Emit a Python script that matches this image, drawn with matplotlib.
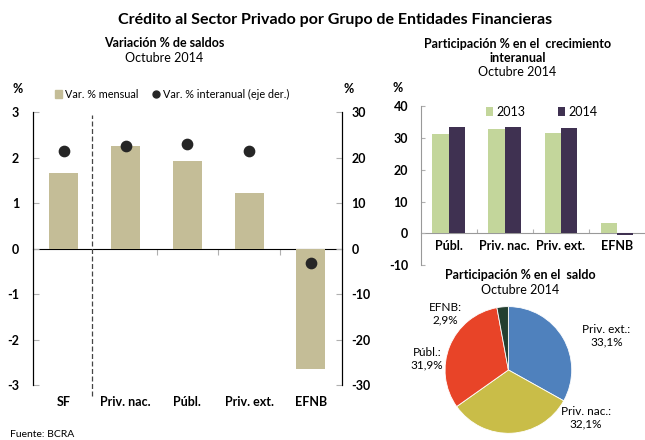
import matplotlib.pyplot as plt
from matplotlib.patches import Rectangle
from matplotlib.lines import Line2D

plt.rcParams['font.family'] = ['Lato', 'DejaVu Sans']

# left chart: variacion % de saldos
grupos = ["SF", "Priv. nac.", "Públ.", "Priv. ext.", "EFNB"]
var_mensual = [1.67, 2.26, 1.93, 1.22, -2.64]
var_interanual = [21.4, 22.6, 22.9, 21.5, -3.2]

# right top: participacion % en el crecimiento interanual
entidades = ["Públ.", "Priv. nac.", "Priv. ext.", "EFNB"]
part_2013 = [31.4, 32.9, 31.7, 3.35]
part_2014 = [33.5, 33.5, 33.1, -0.6]

# pie: participacion % en el saldo
pie_labels = ["Priv. ext.:\n33,1%", "Priv. nac.:\n32,1%", "Públ.:\n31,9%", "EFNB:\n2,9%"]
pie_vals = [33.1, 32.1, 31.9, 2.9]
pie_colors = ["#4F81BD", "#C9BD48", "#E84428", "#233F30"]

TAN = "#C4BD97"
GREEN = "#C3D69B"
PURPLE = "#3F3151"
TICKG = "#B0B0B0"

fig = plt.figure(figsize=(6.45, 4.4), dpi=100)

fig.text(0.52, 0.955, "Crédito al Sector Privado por Grupo de Entidades Financieras",
         ha="center", va="center", fontsize=11.5, fontweight="bold")

# ---------------- left chart ----------------
ax = fig.add_axes([0.0512, 0.125, 0.4788, 0.62])
x = range(len(grupos))
ax.bar(x, var_mensual, width=0.47, color=TAN, zorder=2)
ax.set_xlim(-0.5, 4.5)
ax.set_ylim(-3, 3)
ax.set_yticks([-3, -2, -1, 0, 1, 2, 3])
ax.set_yticklabels(["-3", "-2", "-1", "0", "1", "2", "3"], fontweight="bold", fontsize=9)
ax.tick_params(axis="y", direction="in", length=4, color=TICKG, pad=10)
ax.set_xticks(list(x))
ax.set_xticklabels(grupos, fontweight="bold", fontsize=9)
ax.tick_params(axis="x", length=0, pad=8)
for s in ["top", "bottom"]:
    ax.spines[s].set_visible(False)
for s in ["left", "right"]:
    ax.spines[s].set_color("black")
ax.axvline(0.46, color="#444444", lw=0.9, ls=(0, (4, 2)), ymin=-0.04, ymax=0.99,
           clip_on=False, zorder=1)

zero = ax.secondary_xaxis(0.5)
zero.set_xticks([1.5, 2.5, 3.5], labels=[])
zero.tick_params(direction="in", length=4, color=TICKG)
zero.spines["bottom"].set_color("black")

ax2 = ax.twinx()
ax2.scatter(x, var_interanual, s=55, color="#262626", zorder=3)
ax2.set_ylim(-30, 30)
ax2.set_yticks([-30, -20, -10, 0, 10, 20, 30])
ax2.set_yticklabels(["-30", "-20", "-10", "0", "10", "20", "30"], fontweight="bold", fontsize=9)
ax2.tick_params(axis="y", direction="in", length=4, color=TICKG, pad=7)
for s in ["top", "bottom"]:
    ax2.spines[s].set_visible(False)

fig.text(0.028, 0.797, "%", fontsize=9, fontweight="bold", ha="center", va="center")
fig.text(0.541, 0.797, "%", fontsize=9, fontweight="bold", ha="center", va="center")
fig.text(0.255, 0.902, "Variación % de saldos", ha="center", va="center",
         fontsize=9, fontweight="bold")
fig.text(0.255, 0.868, "Octubre 2014", ha="center", va="center", fontsize=9)

h1 = Rectangle((0, 0), 1, 1, color=TAN)
h2 = Line2D([], [], marker="o", ls="", color="#262626", markersize=5)
ax.legend([h1, h2], ["Var. % mensual", "Var. % interanual (eje der.)"],
          loc="center", bbox_to_anchor=(0.45, 1.065), ncol=2, frameon=False,
          fontsize=7.8, handlelength=0.7, handletextpad=0.25, columnspacing=1.3,
          handleheight=0.7)

fig.text(0.016, 0.013, "Fuente: BCRA", fontsize=7.5, ha="left", va="center")

# ---------------- right top chart ----------------
bx = fig.add_axes([0.652, 0.398, 0.348, 0.36])
xe = range(len(entidades))
bx.bar([i - 0.145 for i in xe], part_2013, width=0.29, color=GREEN, label="2013", zorder=2)
bx.bar([i + 0.145 for i in xe], part_2014, width=0.29, color=PURPLE, label="2014", zorder=2)
bx.set_xlim(-0.5, 3.5)
bx.set_ylim(-10, 40)
bx.set_yticks([-10, 0, 10, 20, 30, 40])
bx.set_yticklabels(["-10", "0", "10", "20", "30", "40"], fontweight="bold", fontsize=9)
bx.tick_params(axis="y", direction="in", length=3, color=TICKG, pad=9)
bx.set_xticks([])
for s in ["top", "bottom", "right"]:
    bx.spines[s].set_visible(False)
bx.spines["left"].set_color("#999999")
zb = bx.secondary_xaxis(0.2)
zb.set_xticks([0.5, 1.5, 2.5], labels=[])
zb.tick_params(direction="in", length=3, color=TICKG)
zb.spines["bottom"].set_color("#999999")
for i, name in enumerate(entidades):
    bx.text(i, -2.3, name, ha="center", va="top", fontsize=9, fontweight="bold")
bx.legend(loc="center", bbox_to_anchor=(0.54, 0.965), ncol=2, frameon=False,
          fontsize=9, handlelength=0.6, handleheight=0.7, handletextpad=0.25,
          columnspacing=2.6)

fig.text(0.617, 0.8, "%", fontsize=9, fontweight="bold", ha="center", va="center")
fig.text(0.802, 0.9, "Participación % en el  crecimiento", ha="center", va="center",
         fontsize=9, fontweight="bold")
fig.text(0.802, 0.868, "interanual", ha="center", va="center", fontsize=9, fontweight="bold")
fig.text(0.802, 0.836, "Octubre 2014", ha="center", va="center", fontsize=9)

# ---------------- pie ----------------
px = fig.add_axes([0.690, 0.0152, 0.1964, 0.288])
px.pie(pie_vals, colors=pie_colors, startangle=90, counterclock=False,
       wedgeprops=dict(edgecolor="white", linewidth=0.6))
px.set_xlim(-1, 1)
px.set_ylim(-1, 1)
px.set_aspect("equal")
fig.text(0.806, 0.375, "Participación % en el  saldo", ha="center", va="center",
         fontsize=9, fontweight="bold")
fig.text(0.806, 0.341, "Octubre 2014", ha="center", va="center", fontsize=9)

label_pos = [(0.94, 0.237), (0.908, 0.05), (0.662, 0.185), (0.690, 0.287)]
for (lx, ly), lab in zip(label_pos, pie_labels):
    fig.text(lx, ly, lab, ha="center", va="center", fontsize=8.5, linespacing=1.2)

fig.savefig("out.png", dpi=100)
